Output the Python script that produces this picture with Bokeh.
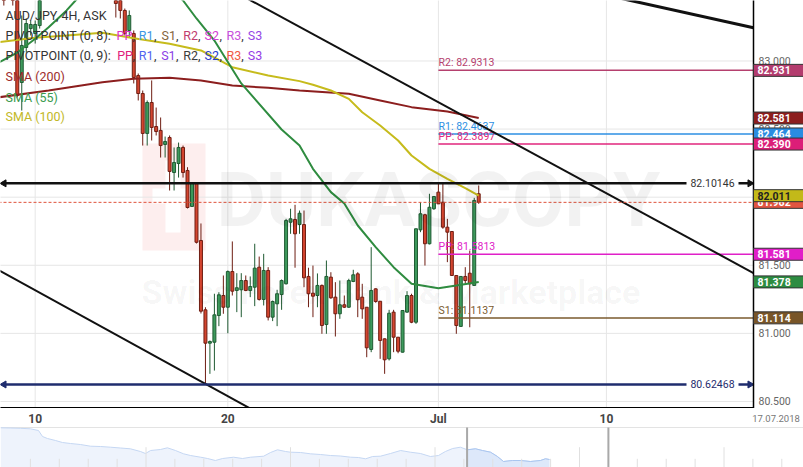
from bokeh.plotting import figure
from bokeh.models import Range1d, ColumnDataSource
from bokeh.layouts import column
from bokeh.embed import file_html
from bokeh.resources import INLINE
from bokeh.core.properties import value

# ======================= DATA =======================
# 4H candles, x = candle index (0 = start of 10 June), prices AUD/JPY
candle_idx = [-7, -5, -4, -3, -2, -1, 0, 1] + list(range(18, 100))
opens = [83.664, 83.628, 83.664, 82.842, 83.099, 83.238, 83.202, 83.260,
         83.554, 83.481, 83.371, 83.224, 83.202, 82.893, 82.761, 82.468, 82.695, 82.519,
         82.490, 82.387, 82.438, 82.181, 82.247, 82.365, 82.196, 81.932, 82.100, 81.682,
         81.173, 80.928, 80.935, 81.131, 81.278, 81.192, 81.454, 81.315, 81.320, 81.388,
         81.315, 81.339, 81.486, 81.249, 81.462, 81.119, 81.217, 81.285, 81.364, 81.816,
         81.836, 81.799, 81.799, 81.418, 81.295, 81.278, 81.352, 81.065, 81.413, 81.266,
         81.144, 81.210, 81.192, 81.381, 81.437, 81.266, 81.192, 80.882, 81.327, 81.236,
         80.960, 80.813, 81.156, 80.972, 80.862, 81.156, 81.278, 81.082, 81.760, 81.871,
         81.658, 81.915, 82.037, 81.963, 81.780, 81.748, 81.425, 81.051, 81.418, 81.442,
         81.352, 82.025]
highs = [83.701, 83.664, 83.701, 83.334, 83.312, 83.297, 83.297, 83.517,
         83.591, 83.517, 83.385, 83.371, 83.224, 82.908, 82.783, 82.710, 82.857, 82.658,
         82.585, 82.445, 82.453, 82.365, 82.401, 82.379, 82.220, 82.108, 82.108, 81.807,
         81.192, 80.948, 81.291, 81.302, 81.425, 81.462, 81.675, 81.442, 81.442, 81.425,
         81.418, 81.658, 81.564, 81.584, 81.486, 81.241, 81.320, 81.396, 81.841, 81.915,
         81.944, 81.902, 81.902, 81.482, 81.498, 81.440, 81.359, 81.535, 81.449, 81.376,
         81.388, 81.278, 81.401, 81.467, 81.449, 81.364, 81.192, 81.633, 81.330, 81.236,
         80.962, 81.173, 81.173, 80.972, 81.168, 81.310, 81.291, 81.768, 81.963, 81.878,
         82.025, 82.005, 82.098, 82.101, 81.841, 81.748, 81.425, 81.418, 81.486, 81.608,
         81.995, 82.086]
lows = [83.407, 83.407, 82.732, 82.636, 83.062, 83.187, 83.128, 83.238,
        83.319, 83.312, 83.187, 83.172, 82.835, 82.710, 82.379, 82.379, 82.416, 82.453,
        82.291, 82.291, 82.049, 82.049, 82.144, 82.144, 81.917, 81.932, 81.660, 81.146,
        80.625, 80.703, 80.727, 81.053, 81.144, 81.001, 81.278, 81.156, 81.119, 81.310,
        81.266, 81.200, 81.241, 81.205, 81.095, 81.090, 81.053, 81.173, 81.359, 81.731,
        81.482, 81.731, 81.339, 81.192, 81.119, 81.192, 80.997, 80.997, 81.254, 80.977,
        81.107, 81.186, 81.188, 81.376, 81.119, 81.107, 80.825, 80.862, 81.225, 80.813,
        80.703, 80.801, 80.862, 80.854, 80.860, 81.151, 81.075, 81.070, 81.743, 81.498,
        81.653, 81.907, 81.951, 81.768, 81.523, 81.425, 80.997, 81.051, 81.366, 81.045,
        81.352, 81.951]
closes = [83.554, 83.517, 82.747, 83.114, 83.275, 83.268, 83.268, 83.481,
          83.422, 83.371, 83.202, 83.334, 82.879, 82.761, 82.468, 82.695, 82.512, 82.482,
          82.379, 82.409, 82.189, 82.255, 82.365, 82.181, 81.924, 82.100, 81.669, 81.163,
          80.928, 80.940, 81.136, 81.283, 81.192, 81.454, 81.310, 81.335, 81.388, 81.315,
          81.344, 81.479, 81.249, 81.462, 81.119, 81.234, 81.291, 81.388, 81.829, 81.841,
          81.731, 81.882, 81.408, 81.291, 81.273, 81.352, 81.058, 81.418, 81.261, 81.144,
          81.210, 81.192, 81.388, 81.430, 81.247, 81.180, 80.894, 81.315, 81.234, 80.948,
          80.806, 81.148, 80.972, 80.869, 81.168, 81.278, 81.082, 81.768, 81.878, 81.658,
          81.926, 82.005, 81.951, 81.780, 81.743, 81.425, 81.058, 81.418, 81.388, 81.364,
          81.976, 81.962]

sma200_idx = [-8, 3, 15, 22, 30, 37, 44, 52, 59, 70, 77, 84, 92, 99]
sma200_val = [82.734, 82.783, 82.844, 82.869, 82.876, 82.857, 82.820, 82.803, 82.783,
              82.759, 82.710, 82.661, 82.629, 82.581]
sma100_idx = [-8, 0, 7, 15, 22, 30, 37, 44, 52, 59, 62, 66, 70, 73, 77, 81, 84, 88, 92, 96, 99]
sma100_val = [83.138, 83.170, 83.187, 83.207, 83.167, 83.126, 83.077, 82.954, 82.893, 82.852,
              82.825, 82.783, 82.722, 82.624, 82.526, 82.416, 82.306, 82.208, 82.135, 82.066, 82.011]
sma55_idx = [-8, -4, 0, 3, 7, 9, 15, 21, 28, 33, 36, 40, 46, 55, 59, 62, 66, 69, 72, 76, 80,
             84, 90, 94, 99]
sma55_val = [82.991, 83.062, 83.163, 83.248, 83.371, 83.444, 83.628, 83.701, 83.591, 83.444,
             83.312, 83.150, 82.835, 82.497, 82.379, 82.208, 82.037, 81.954, 81.792, 81.633,
             81.486, 81.364, 81.332, 81.352, 81.378]

pivot_names = ["R2", "R1", "PP", "PP", "S1"]
pivot_vals = [82.9313, 82.4637, 82.3897, 81.5813, 81.1137]
pivot_start = 90

level_vals = [82.10146, 80.62468]
current_price = 81.962

# trend lines: (x0, y0) -> (x1, y1) anchors
trend_x0 = [40, -8, 126]
trend_y0 = [83.589, 81.462, 83.494]
trend_x1 = [160.33, 52, 160.33]
trend_y1 = [81.443, 80.376, 83.244]

tick_idx = [0, 43, 90, 127.5]
tick_labels = ["10", "20", "Jul", "10"]
date_label = "17.07.2018"
price_ticks = [83.0, 82.5, 82.0, 81.5, 81.0, 80.5]

box_vals = [82.931, 82.581, 82.464, 82.390, 81.962, 82.011, 81.581, 81.378, 81.114]

# navigator (day units, price)
nav_day = [-0.03, 0.31, 0.66, 1.00, 1.28, 1.42, 1.59, 1.87, 2.11, 2.39, 2.73, 3.08, 3.43, 3.77,
           4.12, 4.46, 4.81, 4.98, 5.16, 5.50, 5.74, 6.02, 6.30, 6.54, 6.89, 7.13, 7.40, 7.65,
           8.03, 8.34, 8.62, 9.07, 9.31, 9.55, 9.83, 10.00, 10.35, 10.69, 11.04, 11.38, 11.73,
           12.08, 12.35, 12.60, 12.84, 13.11, 13.46, 13.81, 14.15, 14.50, 14.84, 15.12, 15.36,
           15.61, 15.88, 16.12, 16.40, 16.64, 16.92, 17.16, 17.37, 17.68, 17.96, 18.30, 18.65,
           18.82, 18.96]
nav_val = [83.97, 83.95, 83.92, 83.87, 83.70, 83.10, 82.90, 82.70, 82.50, 82.40, 82.30, 82.13,
           82.10, 82.03, 81.95, 81.87, 81.60, 81.40, 81.70, 81.80, 81.97, 81.70, 81.37, 81.20,
           81.03, 80.90, 80.70, 80.90, 81.03, 80.90, 81.03, 81.13, 81.50, 81.77, 81.60, 81.53,
           81.50, 81.37, 81.30, 81.20, 81.15, 81.03, 81.00, 80.87, 81.10, 81.13, 81.40, 81.70,
           81.53, 81.40, 81.10, 81.20, 81.60, 81.90, 82.03, 81.77, 81.87, 81.70, 81.53, 81.10,
           80.60, 80.70, 80.70, 80.60, 80.70, 80.87, 80.80]
nav_sel = [16.11, 21.0]
nav_day_ticks = list(range(1, 28))

# ======================= LAYOUT / STYLE =======================
I0_X, I_STEP = 34.7, 4.48          # screen placement of candle index 0 / px per candle
P0, PPX = 83.444, 0.007342          # price at top edge / price per px
W, H_MAIN, H_NAV = 803, 408, 59


def ix(X):
    return (X - I0_X) / I_STEP


def py(Y):
    return P0 - Y * PPX


AX = ix(753)
X_LEFT = ix(-2)

p = figure(width=W, height=H_MAIN, x_range=Range1d(ix(0), ix(W)),
           y_range=Range1d(py(H_MAIN), py(0)), x_axis_type=None, y_axis_type=None,
           toolbar_location=None, output_backend="svg", min_border=0,
           outline_line_color=None, background_fill_color="white", border_fill_color="white")


def txt(fig, x, y, s, color, size, bold=False, align="left", baseline="middle", **kw):
    kwargs = dict(text_font=value("Roboto"), text_font_size=size, text_color=color,
                  text_align=align, text_baseline=baseline)
    if bold:
        kwargs["text_font_style"] = "bold"
    kwargs.update(kw)
    return fig.text(x=[x], y=[y], text=[s], **kwargs)


# watermark logo
p.quad(left=[ix(142)], right=[ix(205)], top=[py(143)], bottom=[py(250)],
       fill_color="#fdeeee", line_color=None)
p.quad(left=[ix(152), ix(165)], right=[ix(194), ix(180)], top=[py(188), py(160)],
       bottom=[py(203), py(232)], fill_color="white", line_color=None)

# grid
p.segment(x0=[X_LEFT] * len(price_ticks), y0=price_ticks, x1=[AX] * len(price_ticks),
          y1=price_ticks, line_color="#e6e6e6", line_width=1)
p.segment(x0=tick_idx, y0=[py(410)] * len(tick_idx), x1=tick_idx, y1=[py(-2)] * len(tick_idx),
          line_color="#e6e6e6", line_width=1)

# candles
up = [c >= o for o, c in zip(opens, closes)]
src = ColumnDataSource(dict(
    i=candle_idx, o=opens, h=highs, l=lows, c=closes,
    top=[max(o, c) for o, c in zip(opens, closes)],
    bot=[min(o, c) for o, c in zip(opens, closes)],
    fill=["#3d9a5c" if u else "#d4452f" for u in up],
    edge=["#1f5a32" if u else "#6e1d12" for u in up]))
p.segment(x0="i", y0="l", x1="i", y1="h", line_color="edge", line_width=1, source=src)
p.vbar(x="i", width=0.66, top="top", bottom="bot", fill_color="fill", line_color="edge",
       line_width=1, source=src)

# SMAs
p.line(sma200_idx, sma200_val, line_color="#8c1e1e", line_width=2)
p.line(sma100_idx, sma100_val, line_color="#c6bb1c", line_width=2)
p.line(sma55_idx, sma55_val, line_color="#2f8c40", line_width=2)

# pivots
pivot_colors = ["#b5406e", "#2d8fe3", "#e0267d", "#e020c8", "#7a5a2e"]
p.segment(x0=[pivot_start] * 5, y0=pivot_vals, x1=[AX] * 5, y1=pivot_vals,
          line_color=pivot_colors, line_width=1.5)
for n, v, c in zip(pivot_names, pivot_vals, pivot_colors):
    txt(p, pivot_start + 0.05, v + 1.3 * PPX, f"{n}: {v:.4f}", c, "10.5px", baseline="bottom")

# trend lines
p.segment(x0=trend_x0[:2], y0=trend_y0[:2], x1=trend_x1[:2], y1=trend_y1[:2],
          line_color="#111111", line_width=2)
p.segment(x0=trend_x0[2:], y0=trend_y0[2:], x1=trend_x1[2:], y1=trend_y1[2:],
          line_color="#111111", line_width=3)

# current price dashed line
p.segment(x0=[X_LEFT], y0=[current_price], x1=[AX], y1=[current_price],
          line_color="#e0533d", line_width=1, line_dash="3 2")

# horizontal levels with arrows + labels
level_colors = ["#111111", "#1f2d6e"]
level_text = ["#333333", "#1f2d6e"]
for v, c, tc in zip(level_vals, level_colors, level_text):
    p.segment(x0=[ix(3)], y0=[v], x1=[ix(749)], y1=[v], line_color=c, line_width=2.5)
    p.scatter(x=[ix(749.5), ix(3.5)], y=[v, v], marker="triangle", size=7,
              angle=[-1.5708, 1.5708], fill_color=c, line_color=c)
    p.quad(left=[ix(686)], right=[ix(738)], top=[v + 6 * PPX], bottom=[v - 6 * PPX],
           fill_color="white", line_color=None)
    txt(p, ix(712), v, f"{v:.5f}", tc, "10.5px", align="center")

# axes lines
p.segment(x0=[AX], y0=[py(410)], x1=[AX], y1=[py(-5)], line_color="black", line_width=1.5)
p.segment(x0=[X_LEFT], y0=[py(407.3)], x1=[AX], y1=[py(407.3)], line_color="black",
          line_width=1.5)

# right axis tick labels
for v in price_ticks:
    txt(p, ix(758), v, f"{v:.3f}", "#666666", "10.5px")

# value boxes on the right axis
box_colors = ["#b33c6e", "#8c1e1e", "#2a8ce1", "#dc1e78", "#e15541", "#c3b919",
              "#e11ec8", "#2d8c41", "#785528"]
box_text = ["white"] * 5 + ["#222222"] + ["white"] * 3
for v, fc, tc in zip(box_vals, box_colors, box_text):
    p.quad(left=[AX], right=[ix(805)], top=[v + 6 * PPX], bottom=[v - 6 * PPX],
           fill_color=fc, line_color="#333333", line_width=1)
    txt(p, ix(757), v, f"{v:.3f}", tc, "10.5px", bold=True)

# legend (top-left)
legend_items = [
    (15, [(5, "AUD/JPY, 4H, ASK", "#333333")]),
    (35, [(5, "PIVOTPOINT (0, 8): ", "#333333"), (116, "PP", "#e032c4"), (132, ",", "#333333"),
          (138.3, "R1", "#3c96e4"), (153.5, ",", "#333333"), (161, "S1", "#84653c"),
          (175.5, ",", "#333333"), (182.7, "R2", "#bf3c6e"), (197.5, ",", "#333333"),
          (204, "S2", "#d23cd2"), (219, ",", "#333333"), (226, "R3", "#c850dc"),
          (240.7, ",", "#333333"), (247.3, "S3", "#9646e6")]),
    (55, [(5, "PIVOTPOINT (0, 9): ", "#333333"), (116.7, "PP", "#e0207a"), (132, ",", "#333333"),
          (138.3, "R1", "#5064f0"), (153.5, ",", "#333333"), (160.7, "S1", "#8c3ce6"),
          (175.5, ",", "#333333"), (182.7, "R2", "#3c3c3c"), (197.5, ",", "#333333"),
          (204, "S2", "#283cc8"), (219, ",", "#333333"), (226, "R3", "#f05a46"),
          (240.7, ",", "#333333"), (247.3, "S3", "#963ce6")]),
    (76, [(5, "SMA (200)", "#9c2b2b")]),
    (96.7, [(5, "SMA (55)", "#3b9a4f")]),
    (115.7, [(5, "SMA (100)", "#c2b828")]),
]
for Y, parts in legend_items:
    for X, s, c in parts:
        txt(p, ix(X), py(Y), s, c, "12.5px")

# faint watermark lettering (drawn last, very transparent)
txt(p, ix(216), py(199), "DUKASCOPY", "#000000", "76px", bold=True, text_alpha=0.05)
txt(p, ix(141), py(291), "Swiss Forex Bank & Marketplace", "#000000", "34px", bold=True,
    text_alpha=0.045)

# ======================= bottom strip: x labels + navigator =======================


def ny(Y):
    return 80.0 + (467 - Y) / 10.0


def dx(X):
    return (X - 1) / 28.9


nav = figure(width=W, height=H_NAV, x_range=p.x_range, y_range=Range1d(ny(467), ny(H_MAIN)),
             x_axis_type=None, y_axis_type=None, toolbar_location=None, output_backend="svg",
             min_border=0, outline_line_color=None, background_fill_color="white",
             border_fill_color="white")
nav.extra_x_ranges = {"days": Range1d(dx(0), dx(W))}

for t, lab in zip(tick_idx, tick_labels):
    txt(nav, t, ny(418), lab, "#444444", "12px", bold=True, align="center")
txt(nav, ix(775.5), ny(418), date_label, "#777777", "9.5px", align="center")

nav.segment(x0=[dx(0)], y0=[ny(427)], x1=[dx(W)], y1=[ny(427)], line_color="#e3e3e3",
            line_width=1, x_range_name="days")
nav.varea(x=nav_day, y1=[80.0] * len(nav_day), y2=nav_val, fill_color="#eef3fc",
          x_range_name="days")
nav.line(nav_day, nav_val, line_color="#c5d7f3", line_width=1, x_range_name="days")
sel = [(d, v) for d, v in zip(nav_day, nav_val) if nav_sel[0] <= d <= nav_sel[1]]
sd = [d for d, _ in sel]
sv = [v for _, v in sel]
nav.varea(x=sd, y1=[80.0] * len(sd), y2=sv, fill_color="#dde8fa", x_range_name="days")
nav.line(sd, sv, line_color="#a9c5ef", line_width=1, x_range_name="days")

tick_tops = [ny(446.7) if d % 5 == 0 else ny(458.3) for d in nav_day_ticks]
nav.segment(x0=nav_day_ticks, y0=[80.0] * len(nav_day_ticks), x1=nav_day_ticks, y1=tick_tops,
            line_color="#e0e0e0", line_width=1, x_range_name="days")
nav.segment(x0=nav_sel, y0=[80.0, 80.0], x1=nav_sel, y1=[ny(427), ny(427)],
            line_color="#a9a9a9", line_width=2, x_range_name="days")

layout = column(p, nav)
open("out.html", "w").write(file_html(layout, INLINE))
